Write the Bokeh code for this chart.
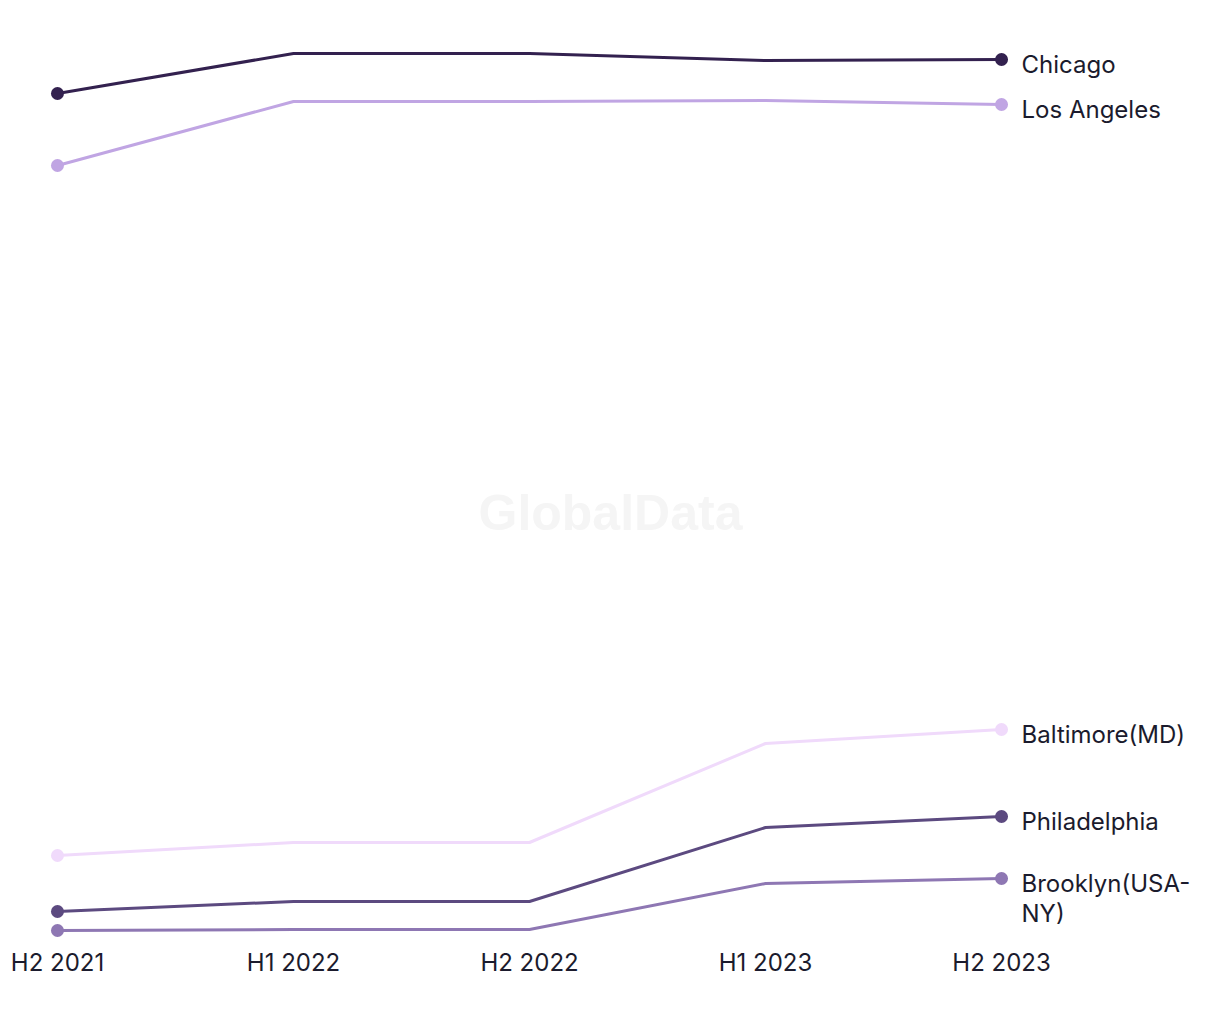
from bokeh.plotting import figure
from bokeh.models import Range1d, FixedTicker, ColumnDataSource
from bokeh.core.properties import value
from bokeh.embed import file_html
from bokeh.resources import INLINE

periods = ["H2 2021", "H1 2022", "H2 2022", "H1 2023", "H2 2023"]
cities = ["Chicago", "Los Angeles", "Baltimore(MD)", "Philadelphia", "Brooklyn(USA-\nNY)"]
chicago = [84.7, 88.7, 88.7, 88.0, 88.1]
los_angeles = [77.5, 83.9, 83.9, 84.0, 83.6]
baltimore = [8.5, 9.8, 9.8, 19.7, 21.1]
philadelphia = [2.9, 3.9, 3.9, 11.3, 12.4]
brooklyn = [1.0, 1.1, 1.1, 5.7, 6.2]
series = [chicago, los_angeles, baltimore, philadelphia, brooklyn]
colors = ["#33214F", "#C0A5E3", "#F0DAFB", "#5C4A80", "#8E77B3"]

FONT = "Inter"
TEXT = "#1b1b2d"

p = figure(width=1204, height=1000, output_backend="svg", toolbar_location=None,
           x_range=Range1d(-0.2415, 4.860), y_range=Range1d(-0.5, 94.0),
           min_border_left=0, min_border_right=0, min_border_top=0, min_border_bottom=55)
p.outline_line_color = None
p.grid.visible = False
p.yaxis.visible = False
p.background_fill_color = "white"

xs = list(range(len(periods)))
p.text(x=[2.343], y=[42.8], text=["GlobalData"], text_font=value("Liberation Sans"),
       text_font_style="bold", text_font_size="50px", text_color="#f5f5f5",
       text_align="center", text_baseline="middle")

for vals, col in zip(series, colors):
    p.line(xs, vals, line_color=col, line_width=3)
    p.scatter([xs[0], xs[-1]], [vals[0], vals[-1]], size=13, fill_color=col, line_color=None)

src = ColumnDataSource(dict(x=[xs[-1]] * len(cities), y=[s[-1] for s in series], t=cities))
p.text(x="x", y="y", text="t", source=src, x_offset=20, y_offset=-10,
       text_font=value(FONT), text_font_size="24px", text_color=TEXT,
       text_align="left", text_baseline="top", text_line_height=1.05)

ax = p.xaxis[0]
ax.ticker = FixedTicker(ticks=xs)
ax.major_label_overrides = {i: s for i, s in enumerate(periods)}
ax.axis_line_color = None
ax.major_tick_line_color = None
ax.minor_tick_line_color = None
ax.major_tick_out = 0
ax.major_label_standoff = 2
ax.major_label_text_font = FONT
ax.major_label_text_font_size = "24px"
ax.major_label_text_color = TEXT

open("out.html", "w").write(file_html(p, INLINE))
